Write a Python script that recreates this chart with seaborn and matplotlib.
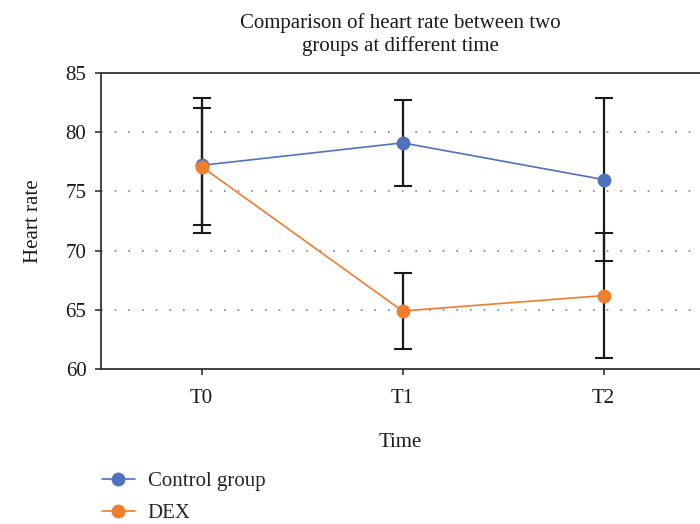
import numpy as np
import pandas as pd
import matplotlib
matplotlib.use("Agg")
import matplotlib.pyplot as plt
import seaborn as sns

times = ["T0", "T1", "T2"]
groups = ["Control group", "DEX"]
control_mean = [77.2, 79.1, 76.0]
control_err = [5.7, 3.65, 6.85]
dex_mean = [77.1, 64.9, 66.2]
dex_err = [4.95, 3.2, 5.25]
y_ticks = [60, 65, 70, 75, 80, 85]

sns.set_theme(style="white")
plt.rcParams["font.family"] = ["Liberation Serif", "DejaVu Serif"]

colors = {"Control group": "#4F72BE", "DEX": "#EE7D2C"}
FS = 15

df = pd.DataFrame({
    "Time": times * 2,
    "x": list(range(len(times))) * 2,
    "Heart rate": control_mean + dex_mean,
    "err": control_err + dex_err,
    "Group": [groups[0]] * 3 + [groups[1]] * 3,
})

fig = plt.figure(figsize=(7.0, 5.24), dpi=100)
ax = fig.add_axes([101 / 700, 1 - 369 / 524, 599 / 700, 296 / 524])

for _, r in df.iterrows():
    ax.errorbar(r["x"], r["Heart rate"], yerr=r["err"], fmt="none",
                ecolor="#1a1a1a", elinewidth=1.6, capsize=6.5, capthick=1.5, zorder=2)

sns.lineplot(data=df, x="x", y="Heart rate", hue="Group", palette=colors,
             marker="o", markersize=10, markeredgewidth=0, linewidth=1.2,
             ax=ax, zorder=3, legend=True)

ax.set_xlim(-0.5, 2.48)
ax.set_ylim(60, 85)
ax.set_yticks(y_ticks)
ax.set_xticks(range(len(times)))
ax.set_xticklabels(times)
for y in [65, 70, 75, 80]:
    ax.axhline(y, color="#808080", linestyle=(0, (1, 7.2)), linewidth=1.2, zorder=1)

ax.tick_params(axis="both", which="major", direction="out", length=4.5, width=1.2,
               color="#333333", labelsize=FS, labelcolor="#1a1a1a", bottom=True, left=True)
ax.tick_params(axis="y", pad=6)
ax.tick_params(axis="x", pad=10)
for s in ["left", "top", "bottom"]:
    ax.spines[s].set_color("#333333")
    ax.spines[s].set_linewidth(1.3)
ax.spines["right"].set_visible(False)

ax.set_xlabel("Time", fontsize=FS, labelpad=18, color="#1a1a1a")
ax.set_ylabel("Heart rate", fontsize=FS, labelpad=16, color="#1a1a1a")
ax.set_title("Comparison of heart rate between two\ngroups at different time",
             fontsize=FS, pad=16, color="#1a1a1a", linespacing=1.2)

handles, labels = ax.get_legend_handles_labels()
ax.legend(handles, labels, loc="upper left", bbox_to_anchor=(83 / 700, 1 - 453 / 524),
          bbox_transform=fig.transFigure, frameon=False, fontsize=FS,
          handlelength=1.6, handletextpad=0.6, labelspacing=0.6)

fig.savefig("out.png", dpi=100)
